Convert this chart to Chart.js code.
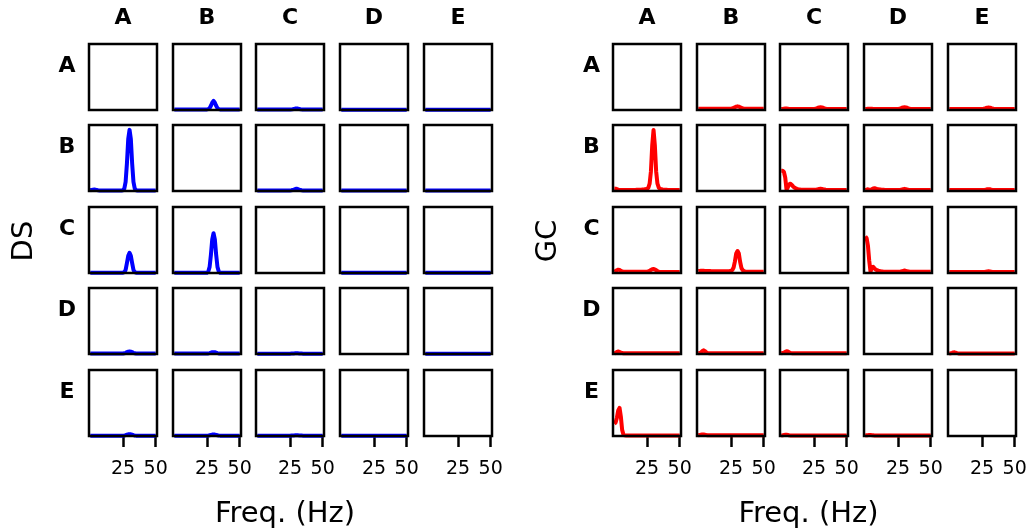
<!DOCTYPE html>
<html><head><meta charset="utf-8">
<script src="https://cdn.jsdelivr.net/npm/chart.js@4/dist/chart.umd.min.js"></script>
<style>
html,body{margin:0;padding:0;background:#fff;}
#wrap{position:relative;width:1027px;height:529px;overflow:hidden;font-family:"DejaVu Sans",sans-serif;background:#fff;}
canvas{position:absolute;}
.t{position:absolute;white-space:nowrap;color:#000;line-height:1;font-family:"DejaVu Sans",sans-serif;}
</style></head><body><div id="wrap"></div>
<script>
// ---------------- DATA ----------------
const freq = [0,1,2,3,4,5,6,7,8,9,10,11,12,13,14,15,16,17,18,19,20,21,22,23,24,25,26,27,28,29,30,31,32,33,34,35,36,37,38,39,40,41,42,43,44,45,46,47,48,49,50];
const xTickValues = [25, 50];
const rowNames = ['A','B','C','D','E'];
const colNames = ['A','B','C','D','E'];
const groupNames = ['DS','GC'];
const xLabel = 'Freq. (Hz)';

// DS (row -> column)
const ds_AB = [.01,.01,.01,.01,.01,.01,.01,.01,.01,.01, .01,.01,.01,.01,.01,.01,.01,.01,.01,.01, .01,.01,.01,.01,.01,.01,.015,.03,.07,.12, .15,.12,.07,.03,.015,.01,.01,.01,.01,.01, .01,.01,.01,.01,.01,.01,.01,.01,.01,.01, .01];
const ds_AC = [.008,.008,.008,.008,.008,.008,.008,.008,.008,.008, .008,.008,.008,.008,.008,.008,.008,.008,.008,.008, .008,.008,.008,.008,.008,.008,.01,.013,.018,.023, .026,.023,.018,.013,.01,.008,.008,.008,.008,.008, .008,.008,.008,.008,.008,.008,.008,.008,.008,.008, .008];
const ds_AD = [.006,.006,.006,.006,.006,.006,.006,.006,.006,.006, .006,.006,.006,.006,.006,.006,.006,.006,.006,.006, .006,.006,.006,.006,.006,.006,.006,.006,.006,.006, .006,.006,.006,.006,.006,.006,.006,.006,.006,.006, .006,.006,.006,.006,.006,.006,.006,.006,.006,.006, .006];
const ds_AE = [.006,.006,.006,.006,.006,.006,.006,.006,.006,.006, .006,.006,.006,.006,.006,.006,.006,.006,.006,.006, .006,.006,.006,.006,.006,.006,.006,.006,.006,.006, .006,.006,.006,.006,.006,.006,.006,.006,.006,.006, .006,.006,.006,.006,.006,.006,.006,.006,.006,.006, .006];
const ds_BA = [.012,.018,.022,.024,.02,.015,.012,.01,.01,.01, .01,.01,.01,.01,.01,.01,.01,.01,.01,.01, .01,.01,.01,.01,.01,.012,.04,.15,.45,.85, 1,.85,.45,.15,.04,.012,.01,.01,.01,.01, .01,.01,.01,.01,.01,.01,.01,.01,.01,.01, .01];
const ds_BC = [.01,.01,.01,.01,.01,.01,.01,.01,.01,.01, .01,.01,.01,.01,.01,.01,.01,.01,.01,.01, .01,.01,.01,.01,.01,.01,.012,.016,.024,.032, .036,.032,.024,.016,.012,.01,.01,.01,.01,.01, .01,.01,.01,.01,.01,.01,.01,.01,.01,.01, .01];
const ds_BD = [.008,.008,.008,.008,.008,.008,.008,.008,.008,.008, .008,.008,.008,.008,.008,.008,.008,.008,.008,.008, .008,.008,.008,.008,.008,.008,.008,.008,.008,.008, .008,.008,.008,.008,.008,.008,.008,.008,.008,.008, .008,.008,.008,.008,.008,.008,.008,.008,.008,.008, .008];
const ds_BE = [.008,.008,.008,.008,.008,.008,.008,.008,.008,.008, .008,.008,.008,.008,.008,.008,.008,.008,.008,.008, .008,.008,.008,.008,.008,.008,.008,.008,.008,.008, .008,.008,.008,.008,.008,.008,.008,.008,.008,.008, .008,.008,.008,.008,.008,.008,.008,.008,.008,.008, .008];
const ds_CA = [.006,.006,.006,.006,.006,.006,.006,.006,.006,.006, .006,.006,.006,.006,.006,.006,.006,.006,.006,.006, .006,.006,.006,.006,.006,.006,.015,.05,.16,.28, .33,.28,.16,.05,.015,.006,.006,.006,.006,.006, .006,.006,.006,.006,.006,.006,.006,.006,.006,.006, .006];
const ds_CB = [.006,.006,.006,.006,.006,.006,.006,.006,.006,.006, .006,.006,.006,.006,.006,.006,.006,.006,.006,.006, .006,.006,.006,.006,.006,.006,.025,.1,.3,.55, .65,.55,.3,.1,.025,.006,.006,.006,.006,.006, .006,.006,.006,.006,.006,.006,.006,.006,.006,.006, .006];
const ds_CD = [.006,.006,.006,.006,.006,.006,.006,.006,.006,.006, .006,.006,.006,.006,.006,.006,.006,.006,.006,.006, .006,.006,.006,.006,.006,.006,.006,.006,.006,.006, .006,.006,.006,.006,.006,.006,.006,.006,.006,.006, .006,.006,.006,.006,.006,.006,.006,.006,.006,.006, .006];
const ds_CE = [.006,.006,.006,.006,.006,.006,.006,.006,.006,.006, .006,.006,.006,.006,.006,.006,.006,.006,.006,.006, .006,.006,.006,.006,.006,.006,.006,.006,.006,.006, .006,.006,.006,.006,.006,.006,.006,.006,.006,.006, .006,.006,.006,.006,.006,.006,.006,.006,.006,.006, .006];
const ds_DA = [.008,.008,.008,.008,.008,.008,.008,.008,.008,.008, .008,.008,.008,.008,.008,.008,.008,.008,.008,.008, .008,.008,.008,.008,.008,.008,.012,.02,.03,.037, .04,.037,.03,.02,.012,.008,.008,.008,.008,.008, .008,.008,.008,.008,.008,.008,.008,.008,.008,.008, .008];
const ds_DB = [.008,.008,.008,.008,.008,.008,.008,.008,.008,.008, .008,.008,.008,.008,.008,.008,.008,.008,.008,.008, .008,.008,.008,.008,.008,.008,.01,.015,.022,.028, .03,.028,.022,.015,.01,.008,.008,.008,.008,.008, .008,.008,.008,.008,.008,.008,.008,.008,.008,.008, .008];
const ds_DC = [.006,.006,.006,.006,.006,.006,.006,.006,.006,.006, .006,.006,.006,.006,.006,.006,.006,.006,.006,.006, .006,.006,.006,.006,.006,.006,.007,.008,.01,.011, .012,.011,.01,.008,.007,.006,.006,.006,.006,.006, .006,.006,.006,.006,.006,.006,.006,.006,.006,.006, .006];
const ds_DE = [.006,.006,.006,.006,.006,.006,.006,.006,.006,.006, .006,.006,.006,.006,.006,.006,.006,.006,.006,.006, .006,.006,.006,.006,.006,.006,.006,.006,.006,.006, .006,.006,.006,.006,.006,.006,.006,.006,.006,.006, .006,.006,.006,.006,.006,.006,.006,.006,.006,.006, .006];
const ds_EA = [.006,.006,.006,.006,.006,.006,.006,.006,.006,.006, .006,.006,.006,.006,.006,.006,.006,.006,.006,.006, .006,.006,.006,.006,.006,.006,.009,.014,.021,.027, .03,.027,.021,.014,.009,.006,.006,.006,.006,.006, .006,.006,.006,.006,.006,.006,.006,.006,.006,.006, .006];
const ds_EB = [.006,.006,.006,.006,.006,.006,.006,.006,.006,.006, .006,.006,.006,.006,.006,.006,.006,.006,.006,.006, .006,.006,.006,.006,.006,.006,.008,.012,.018,.023, .025,.023,.018,.012,.008,.006,.006,.006,.006,.006, .006,.006,.006,.006,.006,.006,.006,.006,.006,.006, .006];
const ds_EC = [.006,.006,.006,.006,.006,.006,.006,.006,.006,.006, .006,.006,.006,.006,.006,.006,.006,.006,.006,.006, .006,.006,.006,.006,.006,.006,.007,.008,.01,.011, .012,.011,.01,.008,.007,.006,.006,.006,.006,.006, .006,.006,.006,.006,.006,.006,.006,.006,.006,.006, .006];
const ds_ED = [.004,.004,.004,.004,.004,.004,.004,.004,.004,.004, .004,.004,.004,.004,.004,.004,.004,.004,.004,.004, .004,.004,.004,.004,.004,.004,.004,.004,.004,.004, .004,.004,.004,.004,.004,.004,.004,.004,.004,.004, .004,.004,.004,.004,.004,.004,.004,.004,.004,.004, .004];

// GC (row -> column)
const gc_AB = [.02,.02,.02,.02,.02,.02,.02,.02,.02,.02, .02,.02,.02,.02,.02,.02,.02,.02,.02,.02, .02,.02,.02,.02,.02,.02,.025,.035,.045,.055, .06,.055,.045,.035,.025,.02,.02,.02,.02,.02, .02,.02,.02,.02,.02,.02,.02,.02,.02,.02, .02];
const gc_AC = [.015,.018,.022,.025,.025,.022,.018,.015,.015,.015, .015,.015,.015,.015,.015,.015,.015,.015,.015,.015, .015,.015,.015,.015,.015,.015,.02,.028,.036,.042, .045,.042,.036,.028,.02,.015,.015,.015,.015,.015, .015,.015,.015,.015,.015,.015,.015,.015,.015,.015, .015];
const gc_AD = [.015,.017,.02,.022,.022,.02,.017,.015,.015,.015, .015,.015,.015,.015,.015,.015,.015,.015,.015,.015, .015,.015,.015,.015,.015,.015,.02,.028,.036,.042, .045,.042,.036,.028,.02,.015,.015,.015,.015,.015, .015,.015,.015,.015,.015,.015,.015,.015,.015,.015, .015];
const gc_AE = [.015,.015,.015,.015,.015,.015,.015,.015,.015,.015, .015,.015,.015,.015,.015,.015,.015,.015,.015,.015, .015,.015,.015,.015,.015,.015,.018,.024,.032,.038, .04,.038,.032,.024,.018,.015,.015,.015,.015,.015, .015,.015,.015,.015,.015,.015,.015,.015,.015,.015, .015];
const gc_BA = [.04,.038,.03,.022,.018,.016,.015,.015,.015,.015, .015,.015,.015,.016,.016,.017,.018,.019,.02,.021, .022,.023,.025,.027,.03,.036,.05,.12,.32,.75, 1,.75,.32,.12,.055,.036,.028,.024,.022,.02, .019,.018,.017,.016,.016,.015,.015,.015,.015,.015, .015];
const gc_BC = [.33,.33,.31,.22,.02,.06,.11,.12,.1,.075, .055,.045,.035,.03,.026,.022,.022,.022,.022,.022, .022,.022,.022,.022,.022,.022,.022,.024,.028,.033, .036,.033,.028,.024,.02,.018,.018,.018,.018,.018, .018,.018,.018,.018,.018,.018,.018,.018,.018,.018, .018];
const gc_BD = [.015,.022,.028,.02,.018,.03,.042,.045,.04,.034, .03,.026,.023,.021,.02,.018,.018,.018,.018,.018, .018,.018,.018,.018,.018,.018,.018,.02,.025,.031, .035,.031,.025,.02,.017,.016,.016,.016,.016,.016, .016,.016,.016,.016,.016,.016,.016,.016,.016,.016, .016];
const gc_BE = [.015,.015,.015,.015,.015,.015,.015,.015,.015,.015, .015,.015,.015,.015,.015,.015,.015,.015,.015,.015, .015,.015,.015,.015,.015,.015,.015,.018,.023,.028, .03,.028,.023,.018,.015,.015,.015,.015,.015,.015, .015,.015,.015,.015,.015,.015,.015,.015,.015,.015, .015];
const gc_CA = [.02,.03,.045,.055,.05,.035,.025,.02,.02,.02, .02,.02,.02,.02,.02,.02,.02,.02,.02,.02, .02,.02,.02,.02,.02,.02,.025,.035,.05,.062, .065,.06,.045,.03,.022,.018,.018,.018,.018,.018, .018,.018,.018,.018,.018,.018,.018,.018,.018,.018, .018];
const gc_CB = [.03,.035,.038,.038,.036,.034,.032,.032,.031,.031, .03,.03,.03,.03,.029,.029,.029,.028,.028,.028, .028,.028,.029,.03,.032,.036,.05,.09,.19,.32, .36,.32,.18,.08,.045,.03,.025,.022,.02,.02, .02,.02,.02,.02,.02,.02,.02,.02,.02,.02, .02];
const gc_CD = [.6,.57,.45,.2,.02,.09,.1,.075,.055,.045, .038,.032,.028,.025,.022,.022,.022,.022,.022,.022, .022,.022,.022,.022,.022,.022,.022,.024,.028,.035, .04,.035,.028,.024,.02,.02,.02,.02,.02,.02, .02,.02,.02,.02,.02,.02,.02,.02,.02,.02, .02];
const gc_CE = [.015,.015,.015,.015,.015,.015,.015,.015,.015,.015, .015,.015,.015,.015,.015,.015,.015,.015,.015,.015, .015,.015,.015,.015,.015,.015,.015,.018,.022,.026, .028,.026,.022,.018,.015,.015,.015,.015,.015,.015, .015,.015,.015,.015,.015,.015,.015,.015,.015,.015, .015];
const gc_DA = [.012,.02,.035,.04,.035,.022,.015,.012,.012,.012, .012,.012,.012,.012,.012,.012,.012,.012,.012,.012, .012,.012,.012,.012,.012,.012,.012,.012,.012,.012, .012,.012,.012,.012,.012,.012,.012,.012,.012,.012, .012,.012,.012,.012,.012,.012,.012,.012,.012,.012, .012];
const gc_DB = [.012,.015,.025,.045,.06,.05,.03,.018,.014,.012, .012,.012,.012,.012,.012,.012,.012,.012,.012,.012, .012,.012,.012,.012,.012,.012,.012,.012,.012,.012, .012,.012,.012,.012,.012,.012,.012,.012,.012,.012, .012,.012,.012,.012,.012,.012,.012,.012,.012,.012, .012];
const gc_DC = [.012,.015,.022,.035,.045,.04,.028,.018,.014,.012, .012,.012,.012,.012,.012,.012,.012,.012,.012,.012, .012,.012,.012,.012,.012,.012,.012,.012,.012,.012, .012,.012,.012,.012,.012,.012,.012,.012,.012,.012, .012,.012,.012,.012,.012,.012,.012,.012,.012,.012, .012];
const gc_DE = [.01,.012,.018,.025,.027,.02,.014,.01,.01,.01, .01,.01,.01,.01,.01,.01,.01,.01,.01,.01, .01,.01,.01,.01,.01,.01,.01,.01,.01,.01, .01,.01,.01,.01,.01,.01,.01,.01,.01,.01, .01,.01,.01,.01,.01,.01,.01,.01,.01,.01, .01];
const gc_EA = [.2,.22,.3,.42,.46,.32,.1,.02,.012,.01, .01,.01,.01,.01,.01,.01,.01,.01,.01,.01, .01,.01,.01,.01,.01,.01,.01,.01,.01,.01, .01,.01,.01,.01,.01,.01,.01,.01,.01,.01, .01,.01,.01,.01,.01,.01,.01,.01,.01,.01, .01];
const gc_EB = [.012,.015,.02,.025,.025,.02,.015,.012,.012,.012, .012,.012,.012,.012,.012,.012,.012,.012,.012,.012, .012,.012,.012,.012,.012,.012,.012,.012,.012,.012, .012,.012,.012,.012,.012,.012,.012,.012,.012,.012, .012,.012,.012,.012,.012,.012,.012,.012,.012,.012, .012];
const gc_EC = [.01,.012,.015,.02,.02,.016,.012,.01,.01,.01, .01,.01,.01,.01,.01,.01,.01,.01,.01,.01, .01,.01,.01,.01,.01,.01,.01,.01,.01,.01, .01,.01,.01,.01,.01,.01,.01,.01,.01,.01, .01,.01,.01,.01,.01,.01,.01,.01,.01,.01, .01];
const gc_ED = [.01,.012,.014,.018,.018,.014,.012,.01,.01,.01, .01,.01,.01,.01,.01,.01,.01,.01,.01,.01, .01,.01,.01,.01,.01,.01,.01,.01,.01,.01, .01,.01,.01,.01,.01,.01,.01,.01,.01,.01, .01,.01,.01,.01,.01,.01,.01,.01,.01,.01, .01];

// ---------------- LAYOUT ----------------
const dsGrid = [
  [null, ds_AB, ds_AC, ds_AD, ds_AE],
  [ds_BA, null, ds_BC, ds_BD, ds_BE],
  [ds_CA, ds_CB, null, ds_CD, ds_CE],
  [ds_DA, ds_DB, ds_DC, null, ds_DE],
  [ds_EA, ds_EB, ds_EC, ds_ED, null]
];
const gcGrid = [
  [null, gc_AB, gc_AC, gc_AD, gc_AE],
  [gc_BA, null, gc_BC, gc_BD, gc_BE],
  [gc_CA, gc_CB, null, gc_CD, gc_CE],
  [gc_DA, gc_DB, gc_DC, null, gc_DE],
  [gc_EA, gc_EB, gc_EC, gc_ED, null]
];
const grids = [
  {data: dsGrid, color: '#0000ff', cols: [89,173,256,340,424], rowLabelX: 67, nameX: 21.5, xLabelX: 285},
  {data: gcGrid, color: '#ff0000', cols: [613,697,780,864,948], rowLabelX: 591.5, nameX: 546, xLabelX: 808.5}
];
const rowTops = [44,125,207,288,370];
const BOX_W = 68, BOX_H = 66, PX = 22, PY = 6, AXIS_H = 50;

const wrap = document.getElementById('wrap');

const framePlugin = {
  id: 'frame',
  afterDatasetsDraw(chart) {
    const a = chart.chartArea, ctx = chart.ctx;
    ctx.save();
    ctx.lineWidth = 2.5;
    ctx.strokeStyle = '#000';
    ctx.lineJoin = 'miter';
    ctx.strokeRect(a.left, a.top, a.right - a.left, a.bottom - a.top);
    ctx.restore();
  }
};

function addText(txt, cx, cy, size, bold, rot) {
  const d = document.createElement('div');
  d.className = 't';
  d.textContent = txt;
  d.style.left = cx + 'px';
  d.style.top = cy + 'px';
  d.style.fontSize = size + 'px';
  d.style.fontWeight = bold ? 'bold' : 'normal';
  d.style.transform = 'translate(-50%,-50%)' + (rot ? ' rotate(-90deg)' : '');
  wrap.appendChild(d);
}

function makePanel(bx, by, series, color, isBottom) {
  const W = BOX_W + 2 * PX;
  const H = BOX_H + 2 * PY + (isBottom ? AXIS_H : 0);
  const holder = document.createElement('div');
  holder.style.position = 'absolute';
  holder.style.left = (bx - PX) + 'px';
  holder.style.top = (by - PY) + 'px';
  holder.style.width = W + 'px';
  holder.style.height = H + 'px';
  const cv = document.createElement('canvas');
  cv.width = W; cv.height = H;
  cv.style.width = W + 'px'; cv.style.height = H + 'px';
  cv.style.left = '0px'; cv.style.top = '0px';
  holder.appendChild(cv);
  wrap.appendChild(holder);
  const datasets = series ? [{
    data: freq.map((f, i) => ({x: f, y: series[i]})),
    borderColor: color, borderWidth: 4, pointRadius: 0, tension: 0,
    fill: false, clip: 3, borderJoinStyle: 'round', borderCapStyle: 'butt'
  }] : [];
  new Chart(cv, {
    type: 'line',
    data: {datasets},
    options: {
      responsive: false, maintainAspectRatio: false, animation: false, devicePixelRatio: 1, events: [],
      layout: {padding: {left: PX, right: PX, top: PY, bottom: PY}},
      plugins: {legend: {display: false}, tooltip: {enabled: false}, title: {display: false}},
      scales: {
        x: {
          type: 'linear', min: -1, max: 51, display: isBottom,
          afterBuildTicks: s => { s.ticks = xTickValues.map(v => ({value: v})); },
          afterFit: s => { if (isBottom) { s.height = AXIS_H; } else { s.height = 0; } s.paddingLeft = 0; s.paddingRight = 0; },
          grid: {display: true, drawOnChartArea: false, drawTicks: true, tickLength: 11, tickWidth: 2.5, tickColor: '#000'},
          border: {display: false},
          ticks: {color: '#000', font: {family: 'DejaVu Sans', size: 19}, padding: 11, maxRotation: 0, autoSkip: false, callback: v => String(v)}
        },
        y: {type: 'linear', min: 0, max: 1.08, display: false}
      }
    },
    plugins: [framePlugin]
  });
}

grids.forEach((g, gi) => {
  for (let r = 0; r < 5; r++) {
    for (let c = 0; c < 5; c++) {
      makePanel(g.cols[c], rowTops[r], g.data[r][c], g.color, r === 4);
    }
  }
  colNames.forEach((n, c) => addText(n, g.cols[c] + BOX_W / 2, 16.7, 22, true, false));
  rowNames.forEach((n, r) => addText(n, g.rowLabelX, rowTops[r] + 21, 22, true, false));
  addText(groupNames[gi], g.nameX, 241, 29, false, true);
  addText(xLabel, g.xLabelX, 512, 29, false, false);
});
</script>
</body></html>
